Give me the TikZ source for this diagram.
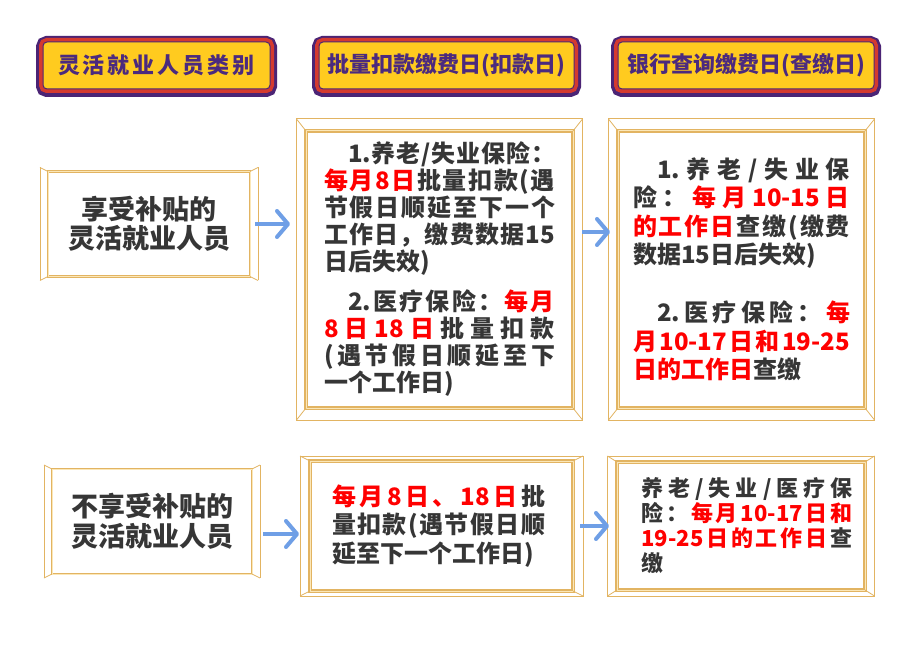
\documentclass[tikz,border=0pt]{standalone}
\usepackage{fontspec}
\setmainfont{Noto Sans CJK SC}
\usepackage{xcolor}
\usetikzlibrary{calc,arrows.meta}

\definecolor{gold}{HTML}{E2B462}
\definecolor{goldlight}{HTML}{FBE7B8}
\definecolor{hdpurple}{HTML}{4B2475}
\definecolor{hdred}{HTML}{D43A2F}
\definecolor{hdyellow}{HTML}{FFCB1F}
\definecolor{hdtext}{HTML}{4B2A7E}
\definecolor{bodygray}{HTML}{363636}
\definecolor{hlred}{HTML}{FF0000}
\definecolor{arrblue}{HTML}{6F9FE6}

% stretchable glue between CJK characters
\XeTeXinterchartokenstate=1
\newXeTeXintercharclass\cjkcls
\newcount\cjkcnt
\cjkcnt="4E00
\loop
  \XeTeXcharclass\cjkcnt=\cjkcls
  \advance\cjkcnt by 1
\ifnum\cjkcnt<"A000 \repeat
\XeTeXcharclass"FF0C=\cjkcls
\XeTeXcharclass"FF1A=\cjkcls
\XeTeXcharclass"3001=\cjkcls
\XeTeXinterchartoks\cjkcls\cjkcls={\hskip0pt plus 4pt\relax}
\XeTeXinterchartoks 0 \cjkcls={\hskip0pt plus 4pt\relax}
\XeTeXinterchartoks\cjkcls 0 ={\hskip0pt plus 4pt\relax}

\newcommand{\gl}{\hskip0pt plus 4pt\relax}
\newcommand{\jl}[2][\hsize]{\makebox[#1][s]{#2}}
\newcommand{\hl}[1]{{\color{hlred}#1}}

\newcommand{\goldframe}[3]{%
  \draw[gold, line width=1pt] ($(#1.north west)+(-#2,-#3)$) rectangle ($(#1.south east)+(#2,#3)$);
  \draw[goldlight, line width=1pt] (#1.north west) rectangle (#1.south east);
  \draw[gold, line width=0.8pt] (#1.north west) -- ++(-#2,-#3) (#1.north east) -- ++(#2,-#3)
    (#1.south west) -- ++(-#2,#3) (#1.south east) -- ++(#2,#3);
}
\newcommand{\goldwings}[3]{%
  \draw[gold, line width=1pt] ($(#1.north west)+(-#2,-#3)$) -- ($(#1.south west)+(-#2,#3)$)
    ($(#1.north east)+(#2,-#3)$) -- ($(#1.south east)+(#2,#3)$);
  \draw[goldlight, line width=0.7pt] (#1.north west) rectangle (#1.south east);
  \draw[gold, line width=0.8pt] (#1.north west) -- ++(-#2,-#3) (#1.north east) -- ++(#2,-#3)
    (#1.south west) -- ++(-#2,#3) (#1.south east) -- ++(#2,#3);
}

\begin{document}
\begin{tikzpicture}[x=1pt,y=-1pt,
  hdr/.style={fill=hdyellow, draw=hdpurple, line width=1pt, rounded corners=4pt, minimum height=47pt,
    text=hdtext, font=\fontsize{22pt}{26pt}\selectfont\bfseries,
    preaction={draw=hdpurple, line width=14pt, transform canvas={yshift=-1pt}},
    preaction={draw=hdred, line width=8pt}},
  box/.style={draw=gold, line width=3.5pt, fill=white, outer sep=0pt, text=bodygray,
    font=\fontsize{24pt}{27pt}\selectfont\bfseries},
  arr/.style={draw=arrblue, line width=4pt, -{Straight Barb[length=11pt,width=26pt,round]}}
]

\fill[white] (0,0) rectangle (900,663);
\useasboundingbox (0,0) rectangle (900,663);

\node[hdr, minimum width=227pt] (h1) at (156.5,65.5) {\makebox[197pt][s]{灵活就业人员类别}};
\node[hdr, minimum width=255pt] (h2) at (446.5,65.5) {批量扣款缴费日(扣款日)};
\node[hdr, minimum width=256pt] (h3) at (746,65.5) {银行查询缴费日(查缴日)};

\node[box, line width=2.5pt, minimum width=202pt, minimum height=105pt, align=center,
  font=\fontsize{27pt}{29pt}\selectfont\bfseries] (l1) at (149,224) {享受补贴的\\灵活就业人员};
\node[box, line width=2.5pt, minimum width=200pt, minimum height=105pt, align=center,
  font=\fontsize{27pt}{30pt}\selectfont\bfseries] (l2) at (152,521.5) {不享受补贴的\\灵活就业人员};

\node[box, minimum width=267pt, minimum height=277pt, text width=231pt, align=left] (m1) at (439.5,269.5) {%
\jl{\hspace*{1em}1.养老/失业保险：}\\
\jl{\hl{每月8日}\gl 批量扣款(遇}\\
\jl{节假日顺延至下一个}\\
\jl{工作日，缴费数据15}\\
日后失效)\\[13pt]
\jl{\hspace*{1em}2.医疗保险：\gl\hl{每月}}\\
\jl{\hl{8日18日}\gl 批量扣款}\\
\jl{(遇节假日顺延至下}\\
一个工作日)};

\node[box, minimum width=247pt, minimum height=277pt, text width=217pt, align=left,
  font=\fontsize{24pt}{28.5pt}\selectfont\bfseries] (r1) at (741.5,269.5) {%
\jl{\hspace*{1em}1.养老/失业保}\\
\jl{险：\gl\hl{每月10-15日}}\\
\jl{\hl{的工作日}\gl 查缴(缴费}\\
数据15日后失效)\\[29.5pt]
\jl{\hspace*{1em}2.医疗保险：\gl\hl{每}}\\
\jl{\hl{月10-17日和19-25}}\\
\hl{日的工作日}查缴};

\node[box, minimum width=263pt, minimum height=130pt, text width=215pt, align=left,
  font=\fontsize{24pt}{28.5pt}\selectfont\bfseries] (m2) at (441.5,526) {%
\hspace*{-2pt}\jl[213pt]{\hl{每月8日、18日}\gl 批}\\
\hspace*{-2pt}\jl[213pt]{量扣款(遇节假日顺}\\
\hspace*{-2pt}延至下一个工作日)};

\node[box, minimum width=248pt, minimum height=128pt, text width=223pt, align=left,
  font=\fontsize{22pt}{25pt}\selectfont\bfseries] (r2) at (741,526) {%
\hspace*{12pt}\jl[211pt]{养老/失业/医疗保}\\
\hspace*{12pt}\jl[211pt]{险：\gl\hl{每月10-17日和}}\\
\hspace*{12pt}\jl[211pt]{\hl{19-25日的工作日}\gl 查}\\
\hspace*{12pt}缴};

\goldwings{l1}{8}{4}
\goldwings{l2}{8}{4}
\goldframe{m1}{9.5}{12}
\goldframe{r1}{9.5}{12}
\goldframe{m2}{10}{5}
\goldframe{r2}{9.5}{6}

\draw[arr, shorten <=5pt, shorten >=16pt] (l1.east) -- (l1.east -| m1.west);
\draw[arr, shorten <=9pt, shorten >=8pt] ([yshift=37.5pt]m1.east) -- ([yshift=37.5pt]m1.east -| r1.west);
\draw[arr, shorten <=11pt, shorten >=11pt] ([yshift=-12.5pt]l2.east) -- ([yshift=-12.5pt]l2.east -| m2.west);
\draw[arr, shorten <=7pt, shorten >=8pt] (m2.east) -- (m2.east -| r2.west);

\end{tikzpicture}
\end{document}
